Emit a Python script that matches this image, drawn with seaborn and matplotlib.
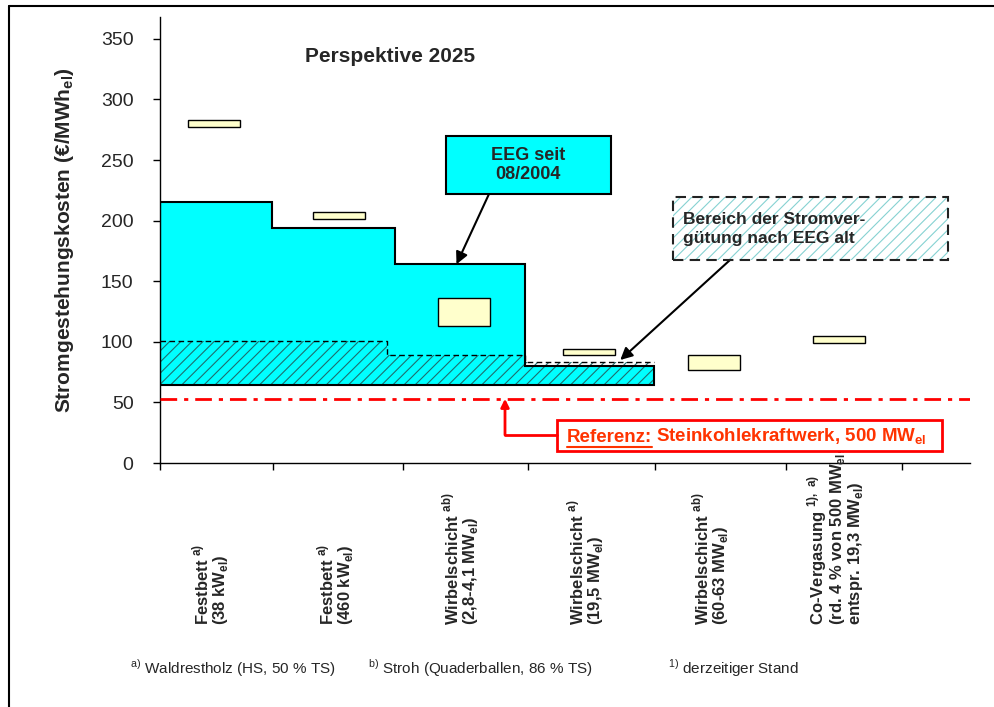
import numpy as np
import pandas as pd
import seaborn as sns
import matplotlib.pyplot as plt
from matplotlib.patches import Rectangle, Polygon
from matplotlib.lines import Line2D

# plant types (x categories)
plants = ["FB38", "FB460", "WS2", "WS19", "WS60", "CoV"]
plant_labels = [
    r"Festbett $^{\mathbf{a)}}$" + "\n" + r"(38 kW$_{\mathbf{el}}$)",
    r"Festbett $^{\mathbf{a)}}$" + "\n" + r"(460 kW$_{\mathbf{el}}$)",
    r"Wirbelschicht $^{\mathbf{ab)}}$" + "\n" + r"(2,8-4,1 MW$_{\mathbf{el}}$)",
    r"Wirbelschicht $^{\mathbf{a)}}$" + "\n" + r"(19,5 MW$_{\mathbf{el}}$)",
    r"Wirbelschicht $^{\mathbf{ab)}}$" + "\n" + r"(60-63 MW$_{\mathbf{el}}$)",
    r"Co-Vergasung $^{\mathbf{1),\ a)}}$" + "\n" + r"(rd. 4 % von 500 MW$_{\mathbf{el}}$,"
    + "\n" + r"entspr. 19,3 MW$_{\mathbf{el}}$)",
]
# electricity generation costs, range per plant (EUR/MWh_el)
cost_low = [277, 201, 113, 89, 77, 99]
cost_high = [283, 207, 136, 94, 89, 105]

# feed-in tariff EEG since 08/2004 (step bounds in category units)
eeg_new_bounds = [-0.43, 0.46, 1.45, 2.49, 3.52]
eeg_new_levels = [215, 194, 164, 80]
# old EEG tariff range
eeg_old_bounds = [-0.43, 1.38, 2.49, 3.52]
eeg_old_levels = [101, 89, 83]
eeg_base = 64

reference_cost = 53  # hard coal plant 500 MW_el
y_ticks = [0, 50, 100, 150, 200, 250, 300, 350]

W, H = 994, 707


def px(x, y):
    return (x / W, 1 - y / H)


def step_poly(bounds, levels, base):
    xs = np.repeat(bounds, 2)
    ys = np.concatenate([[base], np.repeat(levels, 2), [base]])
    return np.column_stack([xs, ys])


sns.set_style("ticks")
plt.rcParams['font.family'] = ['Liberation Sans', 'DejaVu Sans']
plt.rcParams['mathtext.fontset'] = 'custom'
plt.rcParams['mathtext.rm'] = 'Liberation Sans'
plt.rcParams['mathtext.bf'] = 'Liberation Sans:bold'
plt.rcParams['hatch.linewidth'] = 0.8

fig = plt.figure(figsize=(W / 100, H / 100), dpi=100)
ax = fig.add_axes([160 / W, 1 - 463 / H, 810 / W, 446 / H])

# EEG new: solid cyan
new_poly = step_poly(eeg_new_bounds, eeg_new_levels, eeg_base)
ax.add_patch(Polygon(new_poly, closed=True, facecolor="#00FFFF",
                     edgecolor="none", zorder=1))
# EEG old: hatched
old_poly = step_poly(eeg_old_bounds, eeg_old_levels, eeg_base)
ax.add_patch(Polygon(old_poly, closed=True, facecolor="none", hatch="///",
                     edgecolor="#1E6E6E", linewidth=0, zorder=2))
ax.plot(old_poly[1:-1, 0], old_poly[1:-1, 1], color="black", lw=1,
        ls=(0, (4, 2.5)), zorder=3)
ax.add_patch(Polygon(new_poly, closed=True, facecolor="none",
                     edgecolor="black", linewidth=1.5, zorder=3))

# cost ranges as floating bars
df = pd.DataFrame({"plant": plants, "low": cost_low,
                   "span": np.array(cost_high) - np.array(cost_low)})
sns.barplot(data=df, x="plant", y="span", bottom=df["low"], width=0.41,
            color="#FFFFCC", saturation=1, edgecolor="black", linewidth=1,
            errorbar=None, zorder=4, ax=ax)

# reference line
ax.axhline(reference_cost, color="#FF0000", lw=2, ls=(0, (6, 2.5, 1.5, 2.5)),
           zorder=3)

ax.set_xlim(-0.432, 6.048)
ax.set_ylim(0, 368)
ax.set_yticks(y_ticks)
ax.set_yticklabels([str(v) for v in y_ticks], fontsize=14)
ax.set_xticks([-0.432, 0.472, 1.512, 2.512, 3.528, 4.576, 5.504])
ax.set_xticklabels([])
ax.tick_params(axis="x", direction="out", length=5, width=1, color="black")
ax.tick_params(axis="y", direction="out", length=5, width=1, color="black",
               pad=14)
ax.set_xlabel("")
ax.set_ylabel(r"Stromgestehungskosten (€/MWh$_{\mathbf{el}}$)",
              fontsize=15, fontweight="bold", labelpad=18)
for s in ["top", "right"]:
    ax.spines[s].set_visible(False)
for s in ["left", "bottom"]:
    ax.spines[s].set_color("black")
    ax.spines[s].set_linewidth(1)

# category labels below axis
for i, lab in enumerate(plant_labels):
    ax.text(i - 0.03, -0.363, lab, transform=ax.get_xaxis_transform(),
            rotation=90, ha="center", va="bottom", multialignment="left",
            fontsize=12, fontweight="bold", linespacing=0.95)

fig.text(*px(305, 62), "Perspektive 2025", fontsize=15, fontweight="bold")

# EEG seit 08/2004 box
fig.add_artist(Rectangle(px(446, 194), 165 / W, 58 / H, transform=fig.transFigure,
                         facecolor="#00FFFF", edgecolor="black", lw=1.5))
fig.text(*px(528, 165), "EEG seit\n08/2004", ha="center", va="center",
         fontsize=13, fontweight="bold", linespacing=1.2)
ax.annotate("", xy=(1.94, 164), xycoords="data", xytext=px(489, 194),
            textcoords="figure fraction",
            arrowprops=dict(arrowstyle="-|>", color="black", lw=1.5,
                            mutation_scale=18, shrinkA=0, shrinkB=0))

# old EEG box
fig.add_artist(Rectangle(px(673, 260), 275 / W, 63 / H, transform=fig.transFigure,
                         facecolor="white", hatch="///", edgecolor="#86D2D2",
                         lw=0))
fig.add_artist(Rectangle(px(673, 260), 275 / W, 63 / H, transform=fig.transFigure,
                         facecolor="none", edgecolor="#222222", lw=1.5,
                         ls=(0, (5, 3))))
fig.text(*px(683, 229), "Bereich der Stromver-\ngütung nach EEG alt",
         ha="left", va="center", fontsize=12.5, fontweight="bold",
         linespacing=1.35)
ax.annotate("", xy=(3.25, 85), xycoords="data", xytext=px(730, 260),
            textcoords="figure fraction",
            arrowprops=dict(arrowstyle="-|>", color="black", lw=1.5,
                            mutation_scale=18, shrinkA=0, shrinkB=0))

# reference box
fig.add_artist(Rectangle(px(557, 451), 385 / W, 31 / H, transform=fig.transFigure,
                         facecolor="white", edgecolor="#FF0000", lw=2))
fig.add_artist(Line2D([505 / W, 557 / W], [1 - 435 / H, 1 - 435 / H],
                      transform=fig.transFigure, color="#FF0000", lw=2))
ax.annotate("", xy=(2.328, reference_cost), xycoords="data",
            xytext=px(505, 435), textcoords="figure fraction",
            arrowprops=dict(arrowstyle="-|>", color="#FF0000", lw=2,
                            mutation_scale=12, shrinkA=0, shrinkB=0))
red = "#FF3300"
t1 = fig.text(*px(567, 442), "Referenz:", ha="left", va="baseline",
              fontsize=13.5, fontweight="bold", color=red)
fig.canvas.draw()
bb = t1.get_window_extent()
fig.add_artist(Line2D([bb.x0 / W, bb.x1 / W], [(bb.y0 - 1.0) / H] * 2,
                      transform=fig.transFigure, color=red, lw=1.5))
fig.text((bb.x1 + 4) / W, 1 - 442 / H,
         r"Steinkohlekraftwerk, 500 MW$_{\mathbf{el}}$", ha="left",
         va="baseline", fontsize=13.5, fontweight="bold", color=red)

# footnotes
fig.text(*px(130, 674), r"$^{\mathrm{a)}}$ Waldrestholz (HS, 50 % TS)",
         fontsize=11)
fig.text(*px(368, 674), r"$^{\mathrm{b)}}$ Stroh (Quaderballen, 86 % TS)",
         fontsize=11)
fig.text(*px(668, 674), r"$^{\mathrm{1)}}$ derzeitiger Stand", fontsize=11)

# frame
fig.add_artist(Line2D([9 / W, 9 / W], [0, 1 - 6 / H],
                      transform=fig.transFigure, color="black", lw=1.5))
fig.add_artist(Line2D([9 / W, 1], [1 - 6 / H, 1 - 6 / H],
                      transform=fig.transFigure, color="black", lw=1.5))

fig.savefig("out.png", dpi=100)
